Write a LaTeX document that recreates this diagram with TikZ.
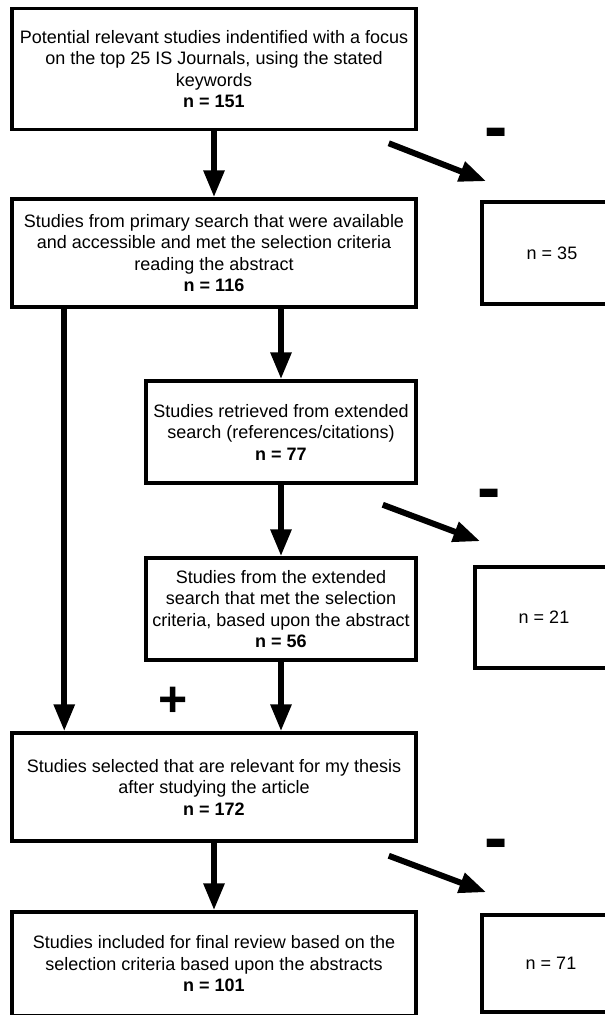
\documentclass[tikz,border=0pt]{standalone}
\usepackage{fontspec}
\setmainfont{Liberation Sans}
\usetikzlibrary{positioning,calc,arrows.meta}
\tikzset{
	>={Triangle[length=27pt,width=20pt]},
	stagebox/.style={
		rectangle,
		draw=black, line width=3.5pt,
		align=center,
		inner sep=0pt,
		font=\fontsize{18}{21.5}\selectfont},
	dropbox/.style={stagebox},
	flowline/.style={draw, ->, line width=6pt},
	signnode/.style={inner sep=0pt, anchor=base, font=\fontsize{#1}{#1}\selectfont\bfseries},
}
\begin{document}
\begin{tikzpicture}[x=1pt,y=-1pt]
\useasboundingbox (0,0) rectangle (605,1015);
% main column
\node[stagebox, minimum width=404pt, minimum height=121pt] (full) at (214,69) {Potential relevant studies indentified with a focus\\ on the top 25 IS Journals, using the stated\\ keywords\\ \textbf{n = 151}};
\node[stagebox, minimum width=404pt, minimum height=108pt] (primary) at (214,253) {Studies from primary search that were available\\ and accessible and met the selection criteria\\ reading the abstract\\ \textbf{n = 116}};
\node[stagebox, minimum width=270pt, minimum height=102pt] (extended) at (281,432) {Studies retrieved from extended\\ search (references/citations)\\ \textbf{n = 77}};
\node[stagebox, minimum width=270pt, minimum height=102pt] (extsel) at (281,609) {Studies from the extended\\ search that met the selection\\ criteria, based upon the abstract\\ \textbf{n = 56}};
\node[stagebox, minimum width=404pt, minimum height=108pt] (selected) at (214,787) {Studies selected that are relevant for my thesis\\ after studying the article\\ \textbf{n = 172}};
\node[stagebox, minimum width=404pt, minimum height=104pt] (final) at (214,964) {Studies included for final review based on the\\ selection criteria based upon the abstracts\\ \textbf{n = 101}};
% excluded
\node[dropbox, minimum width=140pt, minimum height=102pt] (excla) at (552,253) {n = 35};
\node[dropbox, minimum width=138pt, minimum height=101pt] (exclb) at (544,617.5) {n = 21};
\node[dropbox, minimum width=138pt, minimum height=97pt] (exclc) at (551,963.5) {n = 71};
% signs
\node[signnode=70] (minusa) at (496,150) {-};
\node[signnode=70] (minusb) at (489,511) {-};
\node[signnode=70] (minusc) at (496,861) {-};
\node[signnode=50] (plus) at (173,716) {+};
% arrows
\draw[flowline] (full.south) -- (primary.north);
\draw[flowline] (extended.north |- primary.south) -- (extended.north);
\draw[flowline] (extended.south) -- (extsel.north);
\draw[flowline] ($(primary.south west)+(54,0)$) -- ($(selected.north west)+(54,0)$);
\draw[flowline] (extsel.south) -- (extsel.south |- selected.north);
\draw[flowline] (selected.south) -- (final.north);
\draw[flowline] ($(full.south east)+(-29,12)$) -- ($(excla.north west)+(6,-19)$);
\draw[flowline] ($(extended.south east)+(-35,20)$) -- ($(exclb.north west)+(7,-24)$);
\draw[flowline] ($(selected.south east)+(-29,13)$) -- ($(exclc.north west)+(6,-21)$);
\end{tikzpicture}
\end{document}
